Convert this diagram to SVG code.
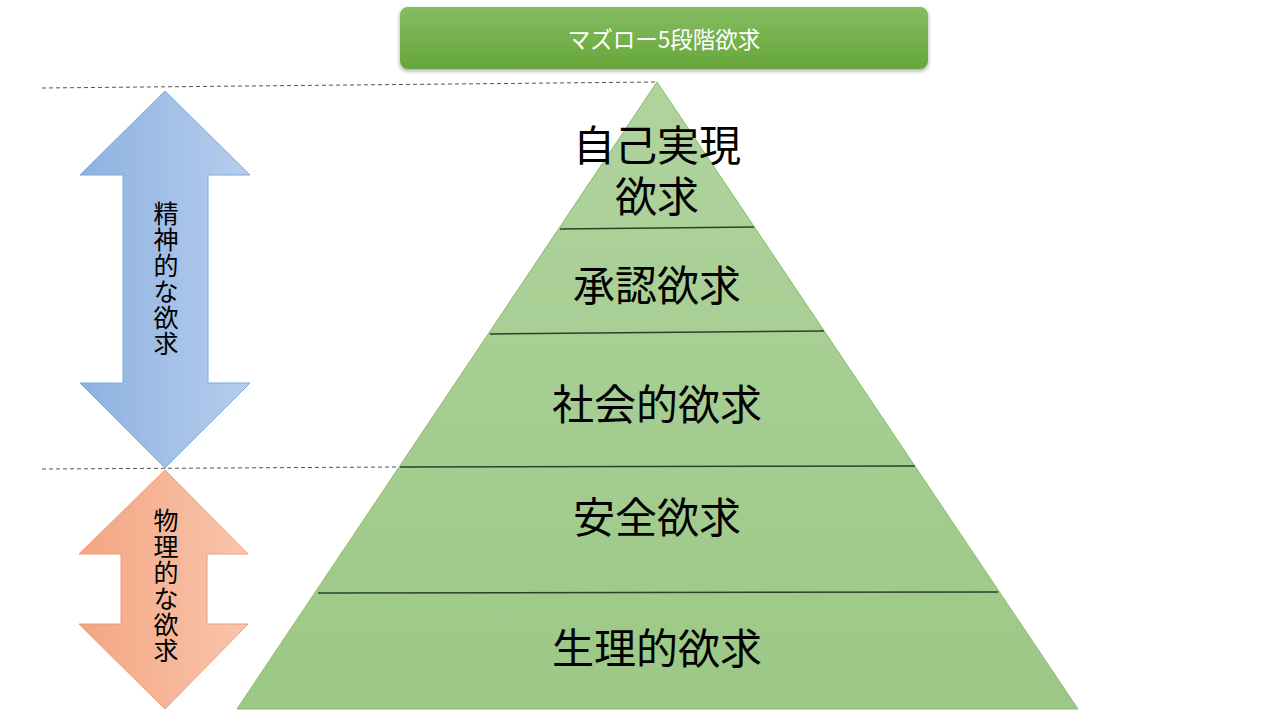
<svg xmlns="http://www.w3.org/2000/svg" width="1280" height="720" viewBox="0 0 1280 720">
<style>
.lbl{font-family:"Noto Sans CJK JP","Noto Sans",sans-serif;fill:#000;text-anchor:middle;dominant-baseline:central}
.pl{font-size:42px}
.vl{font-size:25px}
.ttl{font-family:"Noto Sans CJK JP","Noto Sans",sans-serif;font-size:22.5px;fill:#fff;text-anchor:middle;dominant-baseline:central}
.dash{stroke:#555;stroke-width:1;stroke-dasharray:4 3;fill:none}
.div{stroke:#2f3f2a;stroke-width:1.5}
</style>
<defs>
<linearGradient id="gTitle" x1="0" y1="0" x2="0" y2="1">
<stop offset="0" stop-color="#85bd62"/>
<stop offset="1" stop-color="#66a63a"/>
</linearGradient>
<linearGradient id="gPyr" x1="0" y1="0" x2="0" y2="1">
<stop offset="0" stop-color="#b0d39e"/>
<stop offset="1" stop-color="#9cc886"/>
</linearGradient>
<linearGradient id="gBlue" x1="0" y1="0" x2="1" y2="0">
<stop offset="0" stop-color="#8db2e0"/>
<stop offset="1" stop-color="#b7cdec"/>
</linearGradient>
<linearGradient id="gOrange" x1="0" y1="0" x2="1" y2="0">
<stop offset="0" stop-color="#f4a582"/>
<stop offset="1" stop-color="#f8c6ad"/>
</linearGradient>
<filter id="sh" x="-5%" y="-20%" width="110%" height="150%">
<feDropShadow dx="0" dy="2" stdDeviation="2" flood-color="#000" flood-opacity="0.35"/>
</filter>
</defs>
<rect width="1280" height="720" fill="#fff"/>

<g id="title">
<rect x="400" y="7" width="528" height="62" rx="8" fill="url(#gTitle)" filter="url(#sh)"/>
<text class="ttl" x="664" y="38">マズロー5段階欲求</text>
</g>

<g id="guides">
<line class="dash" x1="42" y1="88" x2="657" y2="82"/>
<line class="dash" x1="42" y1="469" x2="400" y2="467"/>
</g>

<g id="pyramid">
<polygon points="657,82 1078,709 237,709" fill="url(#gPyr)" stroke="#86bc66" stroke-width="1"/>
<line class="div" x1="560" y1="229" x2="754" y2="227"/>
<line class="div" x1="490" y1="334" x2="824" y2="331"/>
<line class="div" x1="400" y1="467" x2="915" y2="466"/>
<line class="div" x1="318" y1="593" x2="998" y2="592"/>
</g>

<g id="level5">
<text class="lbl pl" x="657" y="142">自己実現</text>
<text class="lbl pl" x="657" y="193">欲求</text>
</g>
<g id="level4"><text class="lbl pl" x="657" y="282">承認欲求</text></g>
<g id="level3"><text class="lbl pl" x="657" y="401">社会的欲求</text></g>
<g id="level2"><text class="lbl pl" x="657" y="514">安全欲求</text></g>
<g id="level1"><text class="lbl pl" x="657" y="645">生理的欲求</text></g>

<g id="arrow-mental">
<polygon points="165,91 250,175 208,175 208,383 250,383 165,468 80,383 123,383 123,175 80,175" fill="url(#gBlue)" stroke="#7fa8dc" stroke-width="1"/>
<text class="lbl vl" x="166" y="212">精</text>
<text class="lbl vl" x="166" y="238">神</text>
<text class="lbl vl" x="166" y="264">的</text>
<text class="lbl vl" x="166" y="290">な</text>
<text class="lbl vl" x="166" y="316">欲</text>
<text class="lbl vl" x="166" y="342">求</text>
</g>

<g id="arrow-physical">
<polygon points="165,470 248,554 207,554 207,624 248,624 165,709 79,624 121,624 121,554 79,554" fill="url(#gOrange)" stroke="#f09a78" stroke-width="1"/>
<text class="lbl vl" x="166" y="519">物</text>
<text class="lbl vl" x="166" y="545">理</text>
<text class="lbl vl" x="166" y="571">的</text>
<text class="lbl vl" x="166" y="597">な</text>
<text class="lbl vl" x="166" y="623">欲</text>
<text class="lbl vl" x="166" y="649">求</text>
</g>
</svg>
